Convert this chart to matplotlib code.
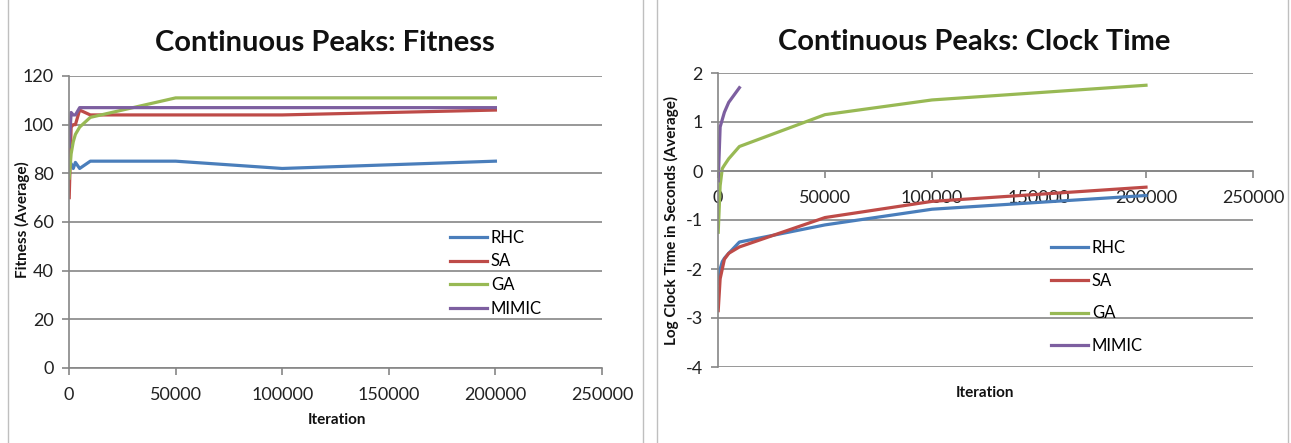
import matplotlib
matplotlib.use("Agg")
import matplotlib.pyplot as plt
from matplotlib.patches import Rectangle

plt.rcParams["font.family"] = ["Lato", "DejaVu Sans"]
plt.rcParams["axes.unicode_minus"] = False

ALGOS = ["RHC", "SA", "GA", "MIMIC"]
COLORS = ["#4A7EBB", "#BE4B48", "#98B954", "#7D5FA0"]

ITER = [100, 1000, 2000, 3000, 5000, 10000, 50000, 100000, 200000]

# fitness (average)
FIT_RHC = [83, 84, 82, 84.5, 82, 85, 85, 82, 85]
FIT_SA = [70, 99, 100, 100, 106, 104, 104, 104, 106]
FIT_GA = [78, 88, 93, 96, 99, 103, 111, 111, 111]
FIT_MIMIC = [91, 105, 104, 104, 107, 107, 107, 107, 107]

# log clock time in seconds (average)
TIME_RHC = [-2.3, -2.0, -1.85, -1.78, -1.68, -1.45, -1.1, -0.78, -0.5]
TIME_SA = [-2.85, -2.2, -2.0, -1.8, -1.68, -1.55, -0.95, -0.62, -0.33]
TIME_GA = [-1.25, -0.3, 0.05, 0.12, 0.25, 0.5, 1.15, 1.45, 1.75]
ITER_MIMIC_TIME = [100, 1000, 2000, 3000, 5000, 10000]
TIME_MIMIC = [-0.2, 0.9, 1.05, 1.2, 1.4, 1.7]

GRID = "#868686"
W, H = 1291, 443

fig = plt.figure(figsize=(W / 100, H / 100), dpi=100)


def box(x0, y0, x1, y1):
    return [x0 / W, 1 - y1 / H, (x1 - x0) / W, (y1 - y0) / H]


def fx(x):
    return x / W


def fy(y):
    return 1 - y / H


# panel borders
for x0, x1 in [(8, 643), (657, 1288)]:
    fig.patches.append(Rectangle((fx(x0), -0.01), (x1 - x0) / W, 1.02, transform=fig.transFigure,
                                 fill=False, edgecolor="#BFBFBF", linewidth=1))


def style(ax):
    for s in ("top", "right"):
        ax.spines[s].set_visible(False)
    for s in ("left", "bottom"):
        ax.spines[s].set_color(GRID)
        ax.spines[s].set_linewidth(1.2)
    ax.yaxis.grid(True, color=GRID, linewidth=1.2)
    ax.set_axisbelow(True)
    ax.tick_params(colors=GRID, labelcolor="#222222", labelsize=13, length=5, width=1.2)
    ax.tick_params(axis="x", pad=9)
    ax.tick_params(axis="y", pad=6)
    ax.set_xticks([0, 50000, 100000, 150000, 200000, 250000])
    ax.set_xlim(0, 250000)


def legend(ax, x, y, spacing):
    ax.legend(loc="upper left", bbox_to_anchor=(fx(x), fy(y)), bbox_transform=fig.transFigure,
              frameon=False, fontsize=12, handlelength=2.2, handletextpad=0.25,
              labelspacing=spacing, borderpad=0, borderaxespad=0)


bold = dict(fontweight="bold", color="#111111")

# ---- left: fitness ----
ax1 = fig.add_axes(box(69, 76, 602, 368))
style(ax1)
for name, c, ys in zip(ALGOS, COLORS, [FIT_RHC, FIT_SA, FIT_GA, FIT_MIMIC]):
    ax1.plot(ITER, ys, color=c, lw=2.3, label=name)
ax1.set_ylim(0, 120)
ax1.set_yticks(range(0, 121, 20))
fig.text(fx(325), fy(43), "Continuous Peaks: Fitness", fontsize=21, ha="center", va="center", **bold)
fig.text(fx(337), fy(420), "Iteration", fontsize=11, ha="center", va="center", **bold)
fig.text(fx(22), fy(220), "Fitness (Average)", fontsize=11, rotation=90, ha="center", va="center", **bold)
legend(ax1, 450, 230, 0.45)

# ---- right: log clock time ----
ax2 = fig.add_axes(box(718, 73, 1253, 367))
style(ax2)
ax2.spines["bottom"].set_position(("data", 0))
for name, c, xs, ys in zip(ALGOS, COLORS, [ITER, ITER, ITER, ITER_MIMIC_TIME],
                           [TIME_RHC, TIME_SA, TIME_GA, TIME_MIMIC]):
    ax2.plot(xs, ys, color=c, lw=2.3, label=name)
ax2.set_ylim(-4, 2)
ax2.set_yticks(range(-4, 3))
fig.text(fx(974), fy(42), "Continuous Peaks: Clock Time", fontsize=21, ha="center", va="center", **bold)
fig.text(fx(985), fy(393), "Iteration", fontsize=11, ha="center", va="center", **bold)
fig.text(fx(671), fy(220), "Log Clock Time in Seconds (Average)", fontsize=11, rotation=90,
         ha="center", va="center", **bold)
legend(ax2, 1051, 240, 1.0)

fig.savefig("out.png", dpi=100)
